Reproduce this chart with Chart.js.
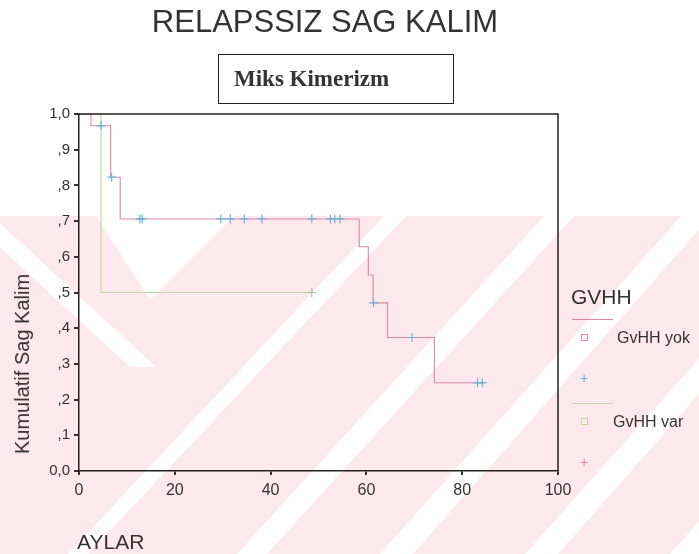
<!DOCTYPE html>
<html>
<head>
<meta charset="utf-8">
<script src="https://cdn.jsdelivr.net/npm/chart.js@4.4.1/dist/chart.umd.min.js"></script>
<style>
  body { margin: 0; background: #fff; }
  #wrap { position: relative; width: 699px; height: 554px; font-family: "Liberation Sans", Arial, sans-serif; color: #222; overflow: hidden; }
  #bg { position: absolute; left: 0; top: 0; }
  #chartBox { position: absolute; left: 0; top: 0; width: 699px; height: 554px; }
  .txt { position: absolute; white-space: nowrap; line-height: 1; }
  #titulo { left: 0; width: 650px; top: 6px; text-align: center; font-size: 31px; color: #333; }
  #kutu { left: 218px; top: 54px; width: 236px; height: 50px; border: 1.5px solid #222; box-sizing: border-box; }
  #kutu span { position: absolute; left: 15px; top: 12px; font-family: "Liberation Serif", "Times New Roman", serif; font-weight: bold; font-size: 23px; color: #333; }
  #ytitle { left: 22px; top: 364px; font-size: 20px; color: #333; transform: translate(-50%, -50%) rotate(-90deg); }
  #aylar { left: 77px; top: 531px; font-size: 21px; color: #333; }
  #legTitle { left: 571px; top: 286px; font-size: 21px; color: #333; }
  .legTxt { font-size: 16px; color: #333; }
  .legLine { position: absolute; height: 0; width: 41px; }
  .legSq { position: absolute; width: 5px; height: 5px; border: 1px solid; }
  .legCross { position: absolute; font-size: 14px; line-height: 1; }
</style>
</head>
<body>
<div id="wrap">
  <svg id="bg" width="699" height="554">
    <rect x="0" y="216" width="699" height="338" fill="#fde8ed"/>
    <polygon points="96,216 234,216 150,300" fill="#fff"/>
    <polygon points="-34,216 -8,216 156,367 130,367" fill="#fff"/>
    <polygon points="384,216 406,216 88,554 68,554" fill="#fff"/>
    <polygon points="544,216 574,216 267,554 237,554" fill="#fff"/>
    <polygon points="681,216 711,216 413,554 380,554" fill="#fff"/>
    <polygon points="826,216 856,216 558,554 525,554" fill="#fff"/>
    <polygon points="970,216 1000,216 703,554 670,554" fill="#fff"/>
  </svg>
  <div id="chartBox"><canvas id="kmChart"></canvas></div>
  <div class="txt" id="titulo">RELAPSSIZ SAG KALIM</div>
  <div class="txt" id="kutu"><span>Miks Kimerizm</span></div>
  <div class="txt" id="ytitle">Kumulatif Sag Kalim</div>
  <div class="txt" id="aylar">AYLAR</div>
  <div class="txt" id="legTitle">GVHH</div>
  <div class="legLine" style="left:572px; top:319px; border-top:1px solid #dc86a8;"></div>
  <div class="legSq" style="left:581px; top:334px; border-color:#e08aa8;"></div>
  <div class="txt legTxt" style="left:617px; top:330px;">GvHH yok</div>
  <div class="legCross" style="left:580px; top:371px; color:#6fb2d6;">+</div>
  <div class="legLine" style="left:572px; top:403px; border-top:1px solid #b9d89c;"></div>
  <div class="legSq" style="left:581px; top:418px; border-color:#b9d89c;"></div>
  <div class="txt legTxt" style="left:613px; top:414px;">GvHH var</div>
  <div class="legCross" style="left:580px; top:455px; color:#e48aa6;">+</div>
</div>

<script>
// Relapssiz sag kalim egrileri (Kaplan-Meier), aylar
const yokZaman = [0, 2.5, 6.6, 8.6, 58.5, 60.4, 61.4, 64.4, 74.2, 84.2];
const yokKalim = [1, 0.967, 0.823, 0.706, 0.628, 0.549, 0.471, 0.374, 0.247, 0.247];
const yokSansurZaman = [4.6, 6.8, 12.7, 13.2, 29.6, 31.6, 34.5, 38.2, 48.6, 52.5, 53.4, 54.5, 61.5, 69.5, 83.2, 84.2];
const yokSansurKalim = [0.967, 0.823, 0.706, 0.706, 0.706, 0.706, 0.706, 0.706, 0.706, 0.706, 0.706, 0.706, 0.471, 0.374, 0.247, 0.247];

const varZaman = [0, 4.6, 48.6];
const varKalim = [1, 0.5, 0.5];
const varSansurZaman = [48.6];
const varSansurKalim = [0.5];

const xTicks = [0, 20, 40, 60, 80, 100];
const yTicks = [0, 0.1, 0.2, 0.3, 0.4, 0.5, 0.6, 0.7, 0.8, 0.9, 1.0];

function puntos(xs, ys) {
  return xs.map((x, i) => ({ x: x, y: ys[i] }));
}

// etiqueta con coma decimal: 1,0 / ,9 / ... / 0,0
function etiquetaY(v) {
  if (v === 0) return "0,0";
  if (v === 1) return "1,0";
  return "," + Math.round(v * 10);
}

// marco superior y derecho del area
const marco = {
  id: "marco",
  afterDraw(chart) {
    const { ctx, chartArea: a } = chart;
    ctx.save();
    ctx.strokeStyle = "#222";
    ctx.lineWidth = 1.5;
    ctx.beginPath();
    ctx.moveTo(a.left, a.top);
    ctx.lineTo(a.right, a.top);
    ctx.lineTo(a.right, a.bottom);
    ctx.stroke();
    ctx.restore();
  },
};

const ctx = document.getElementById("kmChart").getContext("2d");
new Chart(ctx, {
  type: "scatter",
  data: {
    datasets: [
      {
        label: "GvHH yok sansur",
        data: puntos(yokSansurZaman, yokSansurKalim),
        pointStyle: "cross",
        pointRadius: 4.5,
        borderColor: "#6fb2d6",
        borderWidth: 1.2,
      },
      {
        label: "GvHH var sansur",
        data: puntos(varSansurZaman, varSansurKalim),
        pointStyle: "cross",
        pointRadius: 4.5,
        borderColor: "#a9b9a0",
        borderWidth: 1.2,
      },
      {
        label: "GvHH yok",
        data: puntos(yokZaman, yokKalim),
        showLine: true,
        stepped: "before",
        pointRadius: 0,
        borderColor: "#dc86a8",
        borderWidth: 1.1,
      },
      {
        label: "GvHH var",
        data: puntos(varZaman, varKalim),
        showLine: true,
        stepped: "before",
        pointRadius: 0,
        borderColor: "#b9d89c",
        borderWidth: 1.1,
      },
    ],
  },
  options: {
    responsive: true,
    maintainAspectRatio: false,
    animation: false,
    layout: { padding: { left: 39, right: 141, top: 114, bottom: 53 } },
    plugins: {
      legend: { display: false },
      tooltip: { enabled: false },
    },
    scales: {
      x: {
        type: "linear",
        min: 0,
        max: 100,
        afterFit: (axis) => { axis.height = 30; },
        afterBuildTicks: (axis) => { axis.ticks = xTicks.map((v) => ({ value: v })); },
        ticks: {
          color: "#333",
          padding: 6,
          font: { family: "Liberation Sans", size: 16 },
        },
        grid: { drawOnChartArea: false, drawTicks: true, tickLength: 4, color: "#333", lineWidth: 2 },
        border: { display: true, color: "#222", width: 1.5 },
      },
      y: {
        min: 0,
        max: 1,
        afterFit: (axis) => { axis.width = 40; },
        afterBuildTicks: (axis) => { axis.ticks = yTicks.map((v) => ({ value: v })); },
        ticks: {
          color: "#333",
          padding: 4,
          font: { family: "Liberation Sans", size: 15 },
          callback: (v) => etiquetaY(v),
        },
        grid: { drawOnChartArea: false, drawTicks: true, tickLength: 5, color: "#333", lineWidth: 2 },
        border: { display: true, color: "#222", width: 1.5 },
      },
    },
  },
  plugins: [marco],
});
</script>
</body>
</html>
